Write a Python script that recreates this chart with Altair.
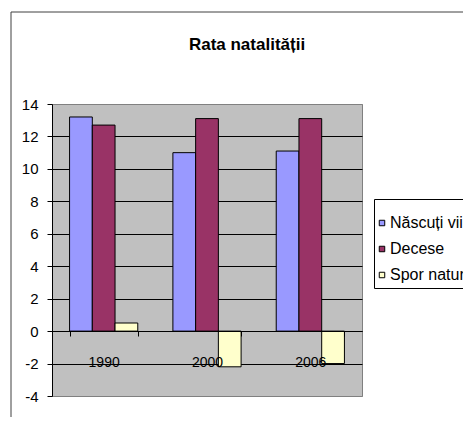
import altair as alt
import pandas as pd

title_text = "Rata natalității"
years = ["1990", "2000", "2006"]
series = ["Născuți vii", "Decese", "Spor natural"]
nascuti = [13.2, 11.0, 11.1]
decese = [12.7, 13.1, 13.1]
spor = [0.5, -2.2, -2.0]
colors = ["#9999FF", "#993366", "#FFFFCC"]
y_ticks = [-4, -2, 0, 2, 4, 6, 8, 10, 12, 14]

rows = []
for i, y in enumerate(years):
    for s, vals in zip(series, [nascuti, decese, spor]):
        rows.append({"an": y, "serie": s, "valoare": vals[i]})
df = pd.DataFrame(rows)

FONT = "Liberation Sans, Arial, Helvetica, sans-serif"

bars = alt.Chart(df).mark_bar(stroke="black", strokeWidth=1).encode(
    x=alt.X("an:N", sort=years, title=None,
            scale=alt.Scale(paddingInner=0.34, paddingOuter=0.17),
            axis=alt.Axis(orient="bottom", offset=-65, labelAngle=0,
                          domainColor="black", tickColor="black",
                          tickBand="extent", tickSize=5, zindex=1,
                          labelFont=FONT, labelFontSize=14, labelColor="black",
                          labelPadding=19, grid=False)),
    xOffset=alt.XOffset("serie:N", sort=series,
                        scale=alt.Scale(paddingInner=0, paddingOuter=0)),
    y=alt.Y("valoare:Q", title=None,
            scale=alt.Scale(domain=[-4, 14], nice=False, zero=False),
            axis=alt.Axis(values=y_ticks, grid=True,
                          gridColor={"condition": {"test": "datum.value == 14 || datum.value == -4",
                                                   "value": "#808080"}, "value": "black"},
                          gridWidth=1, domainColor="black", tickColor="black",
                          tickSize=5, labelFont=FONT, labelFontSize=15,
                          labelExpr="'' + datum.value",
                          labelColor="black", labelPadding=9)),
    color=alt.Color("serie:N", sort=series,
                    scale=alt.Scale(domain=series, range=colors),
                    legend=alt.Legend(title=" ", titleFontSize=11, titlePadding=0,
                                      orient="none", legendX=322, legendY=95,
                                      strokeColor="black", fillColor="white",
                                      padding=5, symbolType="square", symbolSize=30,
                                      symbolOffset=-5, labelOffset=0,
                                      symbolStrokeColor="black", symbolStrokeWidth=1,
                                      labelFont=FONT, labelFontSize=16, labelColor="black",
                                      rowPadding=10, labelLimit=300)),
)

frame = alt.Chart(pd.DataFrame({"k": [0]})).mark_rect(
    fill="transparent", stroke="#404040", strokeWidth=1
).encode(
    x=alt.value(-41), x2=alt.value(1000), y=alt.value(-92), y2=alt.value(1000)
)

title = alt.Chart(pd.DataFrame({"t": [title_text]})).mark_text(
    font=FONT, fontSize=17, fontWeight="bold", color="black",
    align="center", baseline="alphabetic"
).encode(
    text="t:N", x=alt.value(195), y=alt.value(-54)
)

chart = alt.layer(frame, bars, title).properties(
    width=310, height=292,
    autosize=alt.AutoSizeParams(type="none"),
    padding={"left": 44, "top": 96, "right": 101, "bottom": 21},
    background="white",
).configure_view(
    fill="#C0C0C0", stroke="#808080", strokeWidth=1
)

chart.save("out.html", embed_options={"renderer": "svg", "actions": False})
